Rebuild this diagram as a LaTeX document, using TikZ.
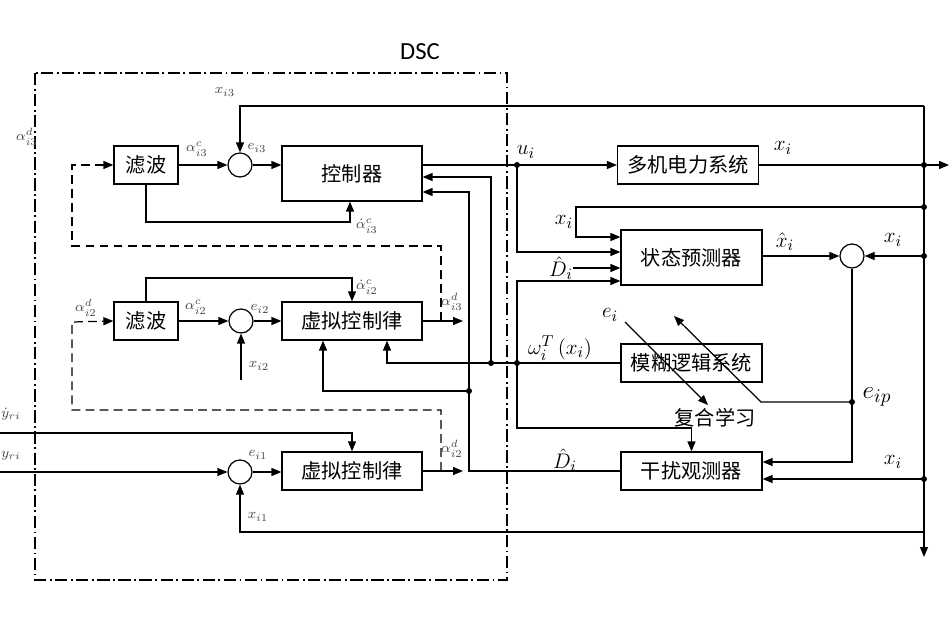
\documentclass[tikz,border=0pt]{standalone}
\usepackage{fontspec}
\setsansfont{Carlito}
\newfontfamily\cjk{Noto Sans CJK SC}
\usetikzlibrary{arrows.meta, positioning, calc}
\definecolor{clabel}{HTML}{4A4A4A}
\tikzset{
  every picture/.style={line width=0.7pt},
  box/.style={draw, rectangle, inner sep=0pt, minimum width=2.8cm, minimum height=0.76cm, font=\cjk\fontsize{11.5}{13}\selectfont},
  filt/.style={box, minimum width=1.28cm},
  sumc/.style={circle, draw, inner sep=0pt, minimum size=0.48cm},
  jdot/.style={circle, fill, inner sep=0pt, minimum size=0.12cm},
  arrow/.style={-{Triangle[length=2mm, width=1.6mm]}},
  darrow/.style={arrow, dash pattern=on 5pt off 3pt},
  sig/.style={font=\fontsize{13}{15}\selectfont, inner sep=1pt},
  slbl/.style={font=\fontsize{8.5}{9}\selectfont, text=clabel, inner sep=0.5pt},
}

\begin{document}
\begin{tikzpicture}[x=0.02cm, y=-0.02cm]
  \useasboundingbox (0,0) rectangle (950,621);
  % DSC frame
  \draw[dash pattern=on 7pt off 2pt on 1pt off 2pt, line width=0.9pt] (35,73) rectangle (507,580);
  \node[font=\sffamily\fontsize{14}{16}\selectfont] (dsc) at (420,52) {DSC};

  % blocks
  \node[filt] (filt3) at (146,165) {滤波};
  \node[sumc] (sum3) at (240,165) {};
  \node[box, minimum height=1.1cm] (ctrl) at (352,173.5) {控制器};
  \node[filt] (filt2) at (146,321) {滤波};
  \node[sumc] (sum2) at (241,321) {};
  \node[box] (vcl2) at (352,321) {虚拟控制律};
  \node[sumc] (sum1) at (240,472) {};
  \node[box] (vcl1) at (352,471) {虚拟控制律};
  \node[box, minimum width=2.82cm] (plant) at (688,165) {多机电力系统};
  \node[box, minimum width=2.82cm, minimum height=1.1cm] (pred) at (691.5,257.5) {状态预测器};
  \node[box, minimum width=2.82cm] (fuzzy) at (691.5,363) {模糊逻辑系统};
  \node[box, minimum width=2.82cm] (obs) at (691.5,471) {干扰观测器};
  \node[sumc] (sum4) at (852,256) {};

  \foreach \n/\x/\y in {ui/517/165, j1/491/363, j2/517/363, j3/469/391, k1/924/165,
                        k2/924/207, k3/924/256, k4/924/479, ep/852/402}
    \node[jdot] (\n) at (\x,\y) {};
  \coordinate (rt) at (924,106);
  \coordinate (rb) at (924,557);
  \coordinate (kb) at (924,532);
  \coordinate (xout) at (949,165);
  \coordinate (dh) at (573,268);
  \coordinate (o3) at (463,321);
  \coordinate (o2) at (463,471);
  \coordinate (x2) at (241,380);
  \coordinate (yd) at (0,433);
  \coordinate (yr) at (0,472);
  \coordinate (a3) at (350,222);
  \coordinate (a2) at (352,278);

  % plant side
  \draw[arrow] (rt) -| (sum3.north);
  \draw[arrow] (rt) -- (rb);
  \draw[arrow] (ctrl.east |- ui) -- (plant.west);
  \draw[arrow] (plant.east) -- (xout);
  \draw[arrow] (k2.center) -- (576,207) -- (576,237) -- (pred.west |- 0,237);
  \draw[arrow] (ui.center) |- (pred.west |- 0,252);
  \draw[arrow] (dh) -- (pred.west |- dh);
  \draw[arrow] (j2.center) |- (pred.west |- 0,281);
  \draw[arrow] (j2.center) -- (517,428) -| (obs.north);
  \draw[arrow] (pred.east |- sum4) -- (sum4.west);
  \draw[arrow] (k3.center) -- (sum4.east);
  \draw[arrow] (sum4.south) |- (obs.east |- 0,462);
  \draw[arrow] (ep.center) -- (761,402) -- (674,316);
  \draw[arrow] (k4.center) -- (obs.east |- k4);
  \draw[arrow] (kb) -| (sum1.south);
  \draw[arrow] (fuzzy.west) -- (387,363) -- (vcl2.south -| 387,0);
  \draw[arrow] (j1.center) |- (ctrl.east |- 0,177);
  \draw[arrow] (obs.west) -| (469,192) -- (ctrl.east |- 0,192);
  \draw[arrow] (j3.center) -- (323,391) -- (vcl2.south -| 323,0);

  % DSC side
  \draw[arrow] (filt3.east) -- (sum3.west);
  \draw[arrow] (sum3.east) -- (ctrl.west |- sum3);
  \draw[arrow] (filt3.south) |- (a3) -- (a3 |- ctrl.south);
  \draw[darrow] (441,321) -- (441,246) -- (72,246) -- (72,165) -- (filt3.west);
  \draw[arrow] (vcl2.east) -- (o3);
  \draw[arrow] (filt2.east) -- (sum2.west);
  \draw[arrow] (sum2.east) -- (vcl2.west);
  \draw[arrow] (filt2.north) |- (a2) -- (vcl2.north);
  \draw[arrow] (x2) -- (sum2.south);
  \draw[darrow] (441,471) -- (441,410) -- (72,410) -- (72,322) -- (filt2.west);
  \draw[arrow] (yd) -| (vcl1.north);
  \draw[arrow] (yr) -- (sum1.west);
  \draw[arrow] (sum1.east) -- (vcl1.west |- sum1);
  \draw[arrow] (vcl1.east) -- (o2);

  % labels
  \node[slbl] (lx3) at (225,92) {$x_{i3}$};
  \node[slbl] (la3c) at (197,149) {$\alpha^{c}_{i3}$};
  \node[slbl] (le3) at (257,148) {$e_{i3}$};
  \node[slbl] (ld3c) at (367,226) {$\dot\alpha^{c}_{i3}$};
  \node[slbl] (la3d) at (27,137) {$\alpha^{d}_{i3}$};
  \node[slbl] (la2d) at (86,308) {$\alpha^{d}_{i2}$};
  \node[slbl] (la2c) at (196,307) {$\alpha^{c}_{i2}$};
  \node[slbl] (le2) at (260,309) {$e_{i2}$};
  \node[slbl] (lx2) at (259,366) {$x_{i2}$};
  \node[slbl] (ld2c) at (367,287) {$\dot\alpha^{c}_{i2}$};
  \node[slbl] (la3r) at (452,302) {$\alpha^{d}_{i3}$};
  \node[slbl] (la2r) at (452,449) {$\alpha^{d}_{i2}$};
  \node[slbl] (lyd) at (11,414) {$\dot y_{ri}$};
  \node[slbl] (lyr) at (11,456) {$y_{ri}$};
  \node[slbl] (le1) at (258,455) {$e_{i1}$};
  \node[slbl] (lx1) at (258,517) {$x_{i1}$};

  \node[sig] (lui) at (526,152) {$u_i$};
  \node[sig] (lxp) at (783,148) {$x_i$};
  \node[sig] (lxl) at (564,222) {$x_i$};
  \node[sig] (ldh) at (561,268) {$\hat D_i$};
  \node[sig] (lxh) at (785,242) {$\hat x_i$};
  \node[sig] (lxr) at (893,240) {$x_i$};
  \node[sig] (lw) at (560,348) {$\omega_i^T\left(x_i\right)$};
  \node[sig] (lei) at (610,315) {$e_i$};
  \node[sig, font=\fontsize{15}{17}\selectfont] (lep) at (877,397) {$e_{ip}$};
  \node[font=\cjk\fontsize{11.5}{13}\selectfont, inner sep=1pt] (cl) at (715,418) {复合学习};
  \node[sig] (ldo) at (565,460) {$\hat D_i$};
  \node[sig] (lxo) at (893,462) {$x_i$};
  \coordinate (ea) at (625,322);
  \coordinate (eb) at (708,405);
  \draw[arrow] (ea) -- (eb);
\end{tikzpicture}
\end{document}
